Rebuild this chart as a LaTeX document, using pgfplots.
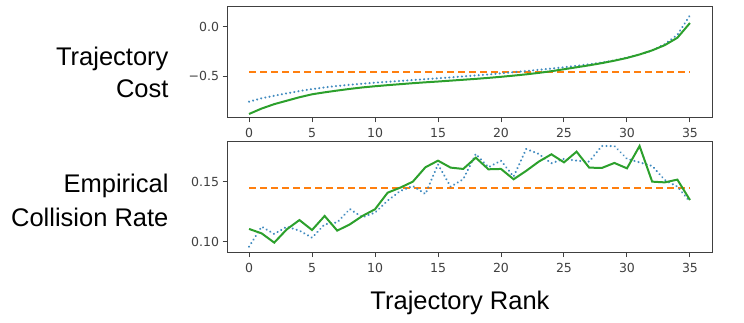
\documentclass[border=0pt]{standalone}
\usepackage{fontspec}
\setmainfont{Liberation Sans}
\newfontfamily\tickfont{DejaVu Sans}
\usepackage{pgfplots}
\pgfplotsset{compat=1.18}

\definecolor{mplblue}{HTML}{1F77B4}
\definecolor{mplorange}{HTML}{FF7F0E}
\definecolor{mplgreen}{HTML}{2CA02C}

\pgfplotsset{
  rankaxis/.style={
    scale only axis, width=485pt, height=111pt,
    xmin=-1.75, xmax=36.75,
    xtick={0,5,...,35},
    axis line style={black!75, line width=1pt},
    tick style={black!75, line width=1pt},
    tick align=outside, major tick length=4.5pt,
    xtick pos=bottom, ytick pos=left,
    tick label style={font=\fontsize{12.5}{13}\tickfont, text=black!75},
    xticklabel style={yshift=-2.5pt},
    /pgf/number format/assume math mode=true,
    clip=true,
  },
}

\begin{document}
\begin{tikzpicture}[x=1pt, y=1pt]
  \useasboundingbox (0,0) rectangle (744,323);

  % top panel: cost
  \begin{axis}[rankaxis,
      at={(227pt,205pt)}, anchor=south west,
      ymin=-0.926, ymax=0.203,
      ytick={-0.5,0}, yticklabels={−0.5,0.0},
    ]
    \addplot[mplorange, line width=2pt, dash pattern=on 7pt off 4pt]
      coordinates {(0,-0.456) (35,-0.456)};
    \addplot[mplblue!85, line width=2.3pt, dash pattern=on 0.01pt off 4.2pt, line cap=round]
      coordinates {
      (0,-0.76) (1,-0.725) (2,-0.70) (3,-0.675) (4,-0.652) (5,-0.632)
      (6,-0.615) (7,-0.60) (8,-0.588) (9,-0.577) (10,-0.567) (11,-0.558)
      (12,-0.549) (13,-0.54) (14,-0.531) (15,-0.522) (16,-0.513) (17,-0.503)
      (18,-0.493) (19,-0.483) (20,-0.472) (21,-0.46) (22,-0.448) (23,-0.436)
      (24,-0.423) (25,-0.41) (26,-0.395) (27,-0.38) (28,-0.362) (29,-0.34)
      (30,-0.312) (31,-0.28) (32,-0.24) (33,-0.175) (34,-0.08) (35,0.118)};
    \addplot[mplgreen, line width=2pt]
      coordinates {
      (0,-0.885) (1,-0.83) (2,-0.785) (3,-0.75) (4,-0.715) (5,-0.685)
      (6,-0.665) (7,-0.647) (8,-0.630) (9,-0.615) (10,-0.603) (11,-0.592)
      (12,-0.582) (13,-0.572) (14,-0.563) (15,-0.555) (16,-0.546) (17,-0.537)
      (18,-0.528) (19,-0.518) (20,-0.507) (21,-0.495) (22,-0.482) (23,-0.467)
      (24,-0.45) (25,-0.43) (26,-0.41) (27,-0.39) (28,-0.368) (29,-0.343)
      (30,-0.315) (31,-0.28) (32,-0.238) (33,-0.185) (34,-0.11) (35,0.04)};
  \end{axis}

  % bottom panel: collision rate
  \begin{axis}[rankaxis,
      at={(227pt,70.3pt)}, anchor=south west,
      ymin=0.0908, ymax=0.1833,
      ytick={0.10,0.15}, yticklabels={0.10,0.15},
    ]
    \addplot[mplorange, line width=2pt, dash pattern=on 7pt off 4pt]
      coordinates {(0,0.1444) (35,0.1444)};
    \addplot[mplblue!85, line width=2.3pt, dash pattern=on 0.01pt off 4.2pt, line cap=round]
      coordinates {
      (0,0.0958) (1,0.1125) (2,0.1064) (3,0.1125) (4,0.1092) (5,0.1033)
      (6,0.1144) (7,0.1161) (8,0.1272) (9,0.1203) (10,0.1242) (11,0.1342)
      (12,0.1422) (13,0.1464) (14,0.1397) (15,0.1644) (16,0.1458) (17,0.1520)
      (18,0.1731) (19,0.1620) (20,0.1675) (21,0.1542) (22,0.1772) (23,0.1731)
      (24,0.1653) (25,0.1690) (26,0.1675) (27,0.1667) (28,0.1797) (29,0.1797)
      (30,0.1690) (31,0.1661) (32,0.1631) (33,0.1514) (34,0.1458) (35,0.1333)};
    \addplot[mplgreen, line width=2pt]
      coordinates {
      (0,0.1106) (1,0.1069) (2,0.0992) (3,0.1103) (4,0.1180) (5,0.1097)
      (6,0.1214) (7,0.1092) (8,0.1144) (9,0.1214) (10,0.1270) (11,0.1408)
      (12,0.1450) (13,0.1500) (14,0.1620) (15,0.1675) (16,0.1617) (17,0.1606)
      (18,0.1700) (19,0.1603) (20,0.1606) (21,0.1520) (22,0.1590) (23,0.1667)
      (24,0.1728) (25,0.1661) (26,0.1750) (27,0.1617) (28,0.1614) (29,0.1656)
      (30,0.1611) (31,0.1797) (32,0.1500) (33,0.1494) (34,0.1517) (35,0.1347)};
  \end{axis}

  % row and axis labels
  \node[anchor=base east, font=\fontsize{25.5}{32}\selectfont]
    at (172,257) {Trajectory};
  \node[anchor=base east, font=\fontsize{25.5}{32}\selectfont]
    at (172,225) {Cost};
  \node[anchor=base east, font=\fontsize{25.5}{32}\selectfont]
    at (172,130) {Empirical};
  \node[anchor=base east, font=\fontsize{25.5}{32}\selectfont]
    at (172,96.3) {Collision Rate};
  \node[anchor=base, font=\fontsize{25.5}{32}\selectfont]
    at (460,13) {Trajectory Rank};
\end{tikzpicture}
\end{document}
